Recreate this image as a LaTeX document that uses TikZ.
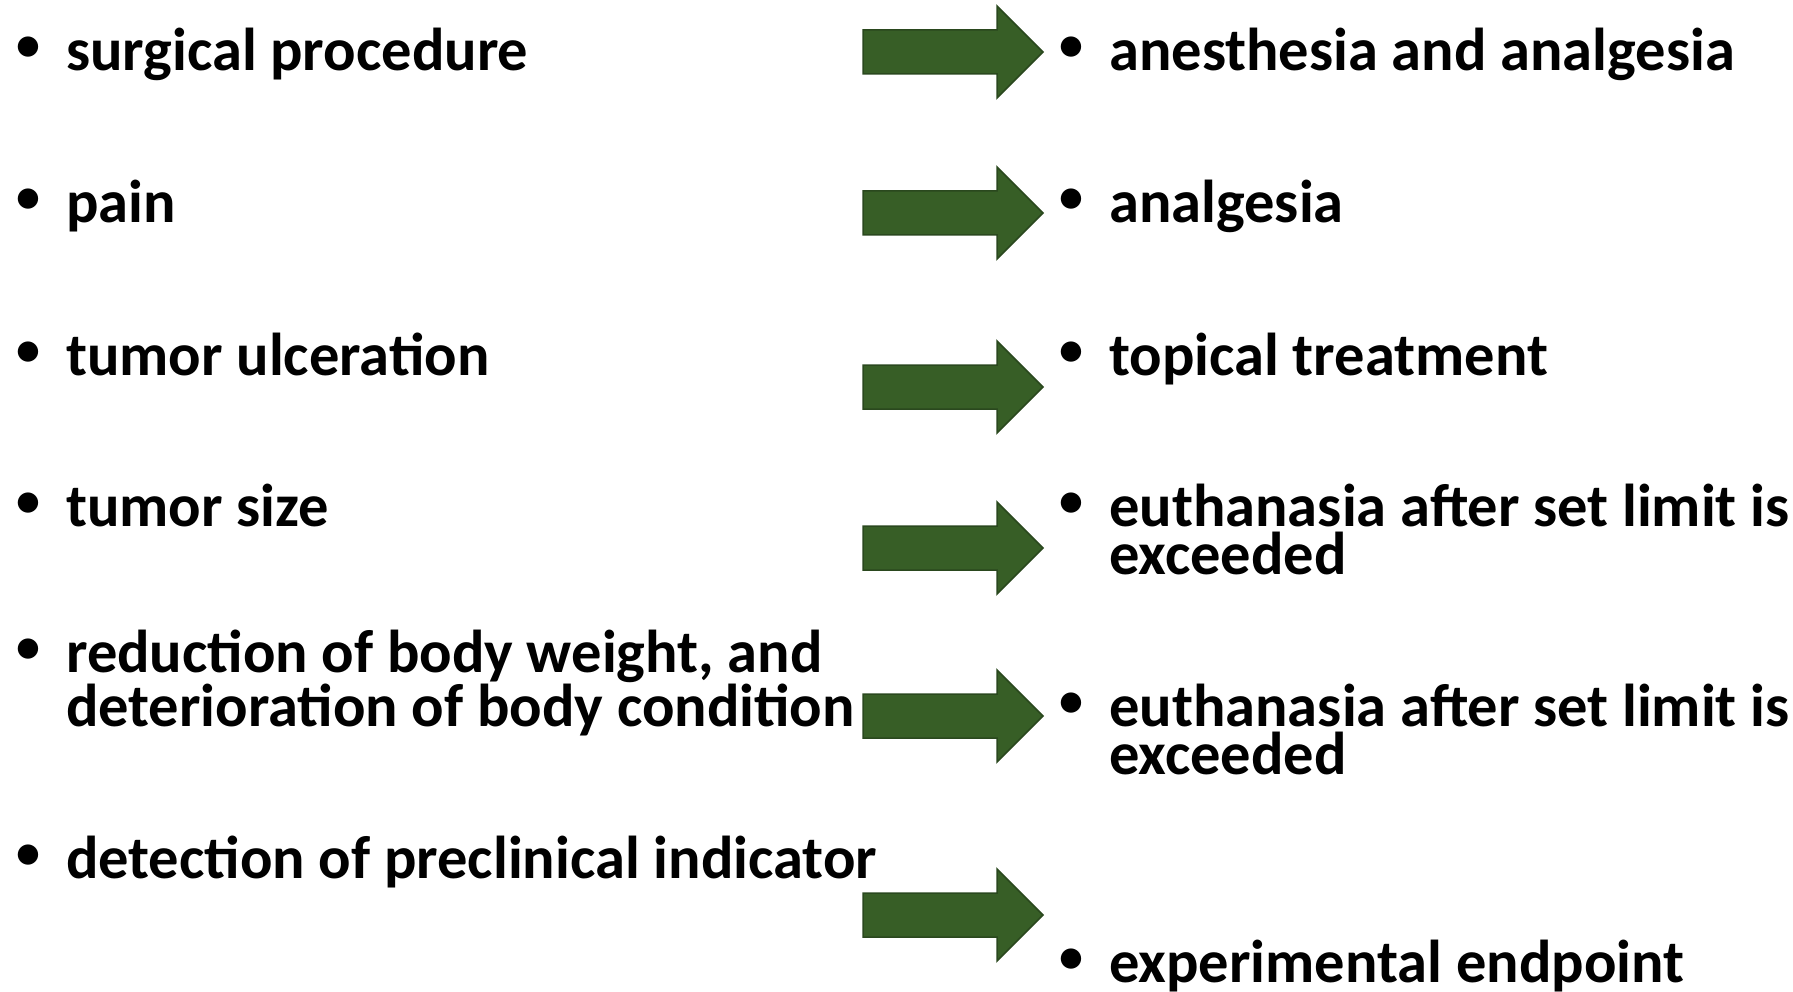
\documentclass[tikz,border=0pt]{standalone}
\usepackage{fontspec}
\setmainfont{Carlito}
\definecolor{arrowgreen}{RGB}{55,94,38}
\definecolor{arrowedge}{RGB}{42,72,30}
\tikzset{
  item/.style={anchor=base west,inner sep=0pt,align=left,
    font=\fontsize{60.5}{48}\selectfont\bfseries},
  flecha/.pic={\draw[fill=arrowgreen,draw=arrowedge,line width=1.5pt]
    (-90,-22) -- (44,-22) -- (44,-46) -- (90,0) -- (44,46) -- (44,22) -- (-90,22) -- cycle;}
}
\newcommand{\bul}{\llap{\raisebox{10pt}{\fontsize{48}{48}\selectfont\textbullet}\hspace{26pt}}}
\begin{document}
\begin{tikzpicture}[x=1pt,y=-1pt]
  \useasboundingbox (0,0) rectangle (1793,992);
  % causes
  \node[item] (surg) at (66,71) {\bul surgical procedure};
  \node[item] (pain) at (66,223) {\bul pain};
  \node[item] (ulc) at (66,375) {\bul tumor ulceration};
  \node[item] (size) at (66,526) {\bul tumor size};
  \node[item] (weight) at (66,726) {\bul reduction of body weight, and\\deterioration of body condition};
  \node[item] (prec) at (66,878) {\bul detection of preclinical indicator};
  % measures
  \node[item] (anest) at (1109,71) {\bul anesthesia and analgesia};
  \node[item] (analg) at (1109,223) {\bul analgesia};
  \node[item] (topic) at (1109,375) {\bul topical treatment};
  \node[item] (euth) at (1109,574) {\bul euthanasia after set limit is\\exceeded};
  \node[item] (euthb) at (1109,774) {\bul euthanasia after set limit is\\exceeded};
  \node[item] (endp) at (1109,982) {\bul experimental endpoint};
  % arrows
  \pic at (953,52) {flecha};
  \pic at (953,213) {flecha};
  \pic at (953,387) {flecha};
  \pic at (953,548) {flecha};
  \pic at (953,716) {flecha};
  \pic at (953,915) {flecha};
\end{tikzpicture}
\end{document}
